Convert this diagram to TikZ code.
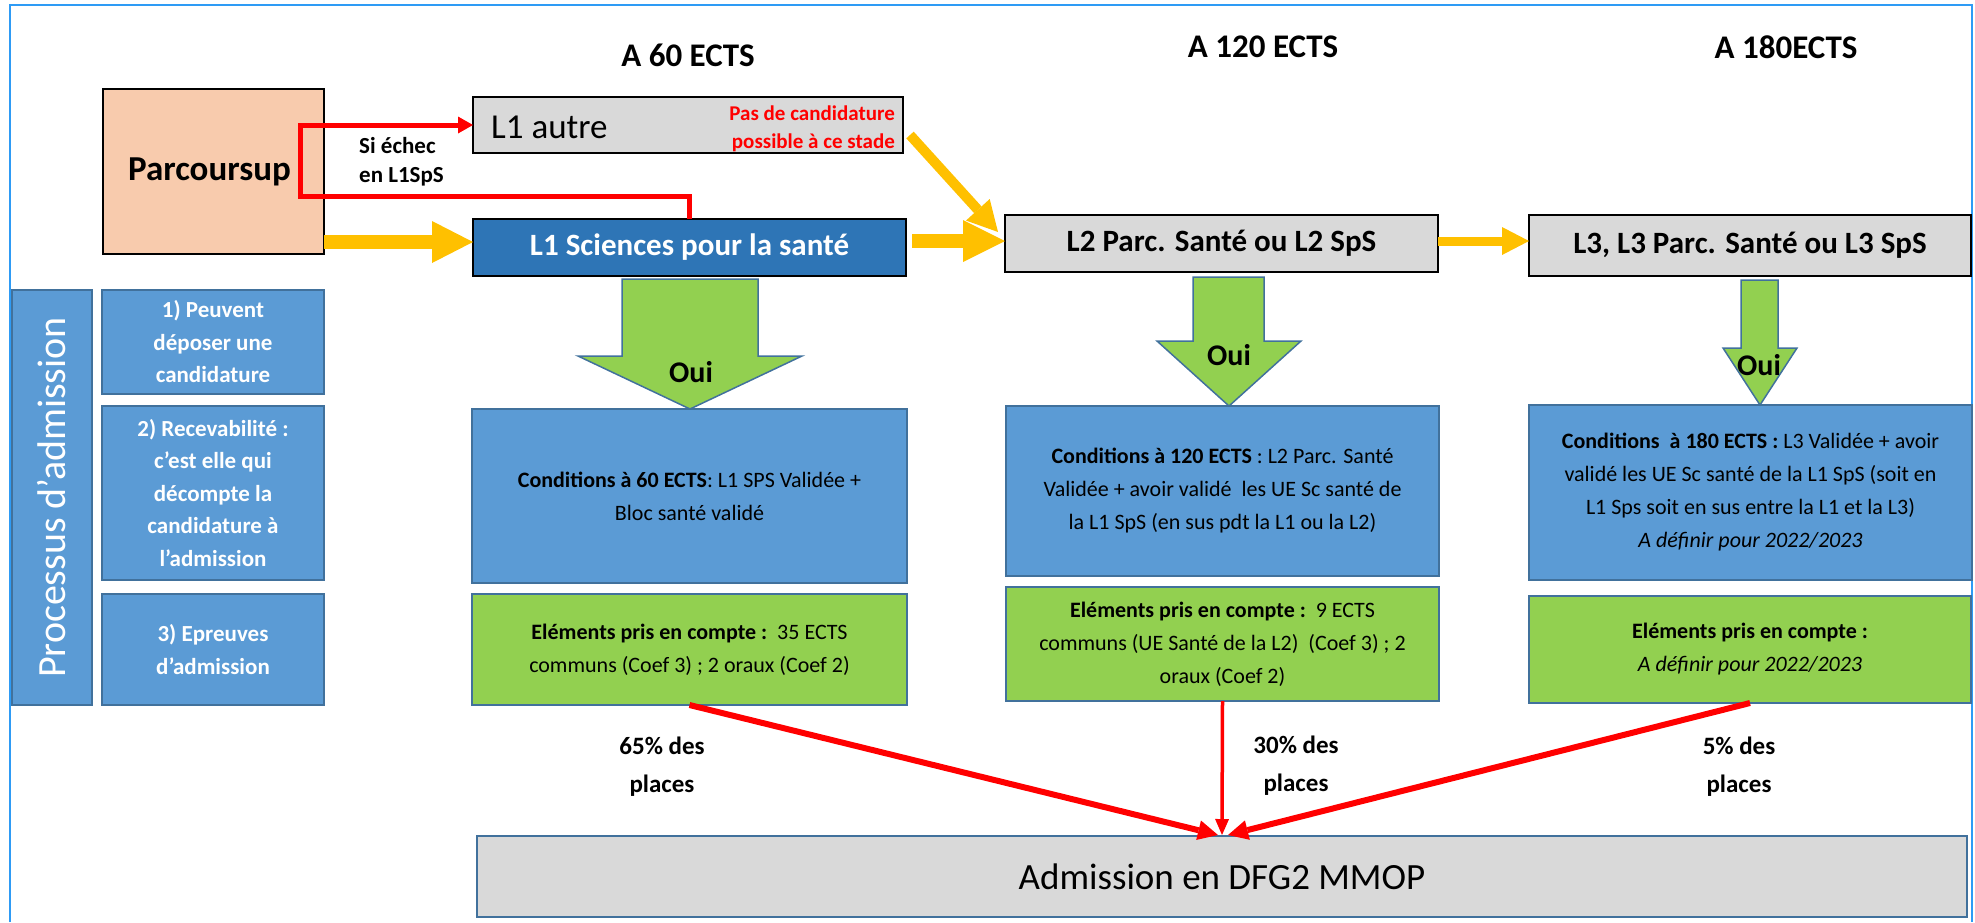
\documentclass[tikz,border=0pt]{standalone}
\usepackage{fontspec}
\setmainfont{Carlito}
\usetikzlibrary{arrows.meta,calc}
\definecolor{peach}{HTML}{F8CBAD}
\definecolor{grayc}{HTML}{D9D9D9}
\definecolor{darkblue}{HTML}{2E75B6}
\definecolor{midblue}{HTML}{5B9BD5}
\definecolor{bordblue}{HTML}{41719C}
\definecolor{greenc}{HTML}{92D050}
\definecolor{yellowc}{HTML}{FFC000}
\definecolor{redc}{HTML}{FF0000}
\definecolor{framec}{HTML}{2E9BF5}
\newcommand\fsz[2]{\fontsize{#1}{#2}\selectfont}
\begin{document}
\begin{tikzpicture}[x=1pt,y=-1pt,
  blackbox/.style={draw=black,line width=2.5pt,inner sep=0pt,outer sep=0pt,align=center},
  bluebox/.style={draw=bordblue,fill=midblue,line width=2pt,inner sep=0pt,outer sep=0pt,align=center},
  greenbox/.style={draw=bordblue,fill=greenc,line width=2pt,inner sep=0pt,outer sep=0pt,align=center},
  head/.style={inner sep=0pt,font=\fsz{33}{38}\bfseries},
  bigtxt/.style={font=\fsz{31}{36}\bfseries},
  stepbox/.style={bluebox,text=white,font=\fsz{23}{32.5}\bfseries,minimum width=222pt},
  condtext/.style={font=\fsz{22}{33}},
  garrow/.style={draw=bordblue,fill=greenc,line width=1.5pt,line join=miter},
  ouitxt/.style={inner sep=0pt,font=\fsz{30}{34}\bfseries},
  pct/.style={inner sep=0pt,align=center,font=\fsz{25}{38}\bfseries},
  yarrow/.style={draw=yellowc,line width=#1},
  redarrow/.style={draw=redc,line width=#1}
]
\useasboundingbox (0,0) rectangle (1975,922);
% frame
\draw[framec,line width=2pt] (10,922) -- (10,5) -- (1972,5) -- (1972,922);

% headings
\node[head] (h60) at (688,55) {A 60 ECTS};
\node[head] (h120) at (1263,47) {A 120 ECTS};
\node[head] (h180) at (1786,47) {A 180ECTS};

% top row
\node[blackbox,fill=peach,minimum width=221pt,minimum height=165pt,font=\fsz{35}{40}\bfseries] (parcoursup) at (213.5,171.5) {Parcoursup\hspace*{8pt}};
\node[blackbox,fill=grayc,minimum width=430pt,minimum height=56pt] (l1autre) at (688,125) {};
\node[anchor=west,inner sep=0pt,font=\fsz{35}{40}] (l1autretxt) at (491,127) {L1 autre};
\node[anchor=east,align=right,inner sep=0pt,text=redc,font=\fsz{21}{28}\bfseries] (pasdecand) at (895,129) {Pas de candidature\\possible à ce stade};
\node[blackbox,bigtxt,fill=darkblue,text=white,minimum width=433pt,minimum height=57pt] (l1sci) at (689.5,247.5) {L1 Sciences pour la santé};
\node[blackbox,bigtxt,fill=grayc,minimum width=433pt,minimum height=57pt] (l2) at (1221.5,243.5) {L2 Parc. Santé ou L2 SpS};
\node[blackbox,bigtxt,fill=grayc,minimum width=442pt,minimum height=61pt] (l3) at (1750,245.5) {L3, L3 Parc. Santé ou L3 SpS};
\node[anchor=west,align=left,inner sep=0pt,font=\fsz{23}{29}\bfseries] (siechec) at (359,161.5) {Si échec\\en L1SpS};

% left process column
\node[bluebox,text=white,minimum width=415pt,minimum height=80pt,rotate=90,font=\fsz{40}{44}] (proc) at (52,497.5) {Processus d’admission};
\node[stepbox,minimum height=104pt] (s1) at (213,342) {1) Peuvent\\déposer une\\candidature};
\node[stepbox,minimum height=174pt] (s2) at (213,493) {2) Recevabilité :\\c’est elle qui\\décompte la\\candidature à\\l’admission};
\node[stepbox,minimum height=111pt] (s3) at (213,649.5) {3) Epreuves\\d’admission};

% conditions
\node[bluebox,condtext,minimum width=435pt,minimum height=174pt] (c1) at (689.5,496) {\textbf{Conditions à 60 ECTS}: L1 SPS Validée +\\Bloc santé validé};
\node[bluebox,condtext,minimum width=433pt,minimum height=170pt] (c2) at (1222.5,491) {\textbf{Conditions à 120 ECTS} : L2 Parc. Santé\\Validée + avoir validé\ \ les UE Sc santé de\\la L1 SpS (en sus pdt la L1 ou la L2)};
\node[bluebox,condtext,minimum width=443pt,minimum height=175pt] (c3) at (1750.5,492.5) {\textbf{Conditions\ \ à 180 ECTS :} L3 Validée + avoir\\validé les UE Sc santé de la L1 SpS (soit en\\L1 Sps soit en sus entre la L1 et la L3)\\\textit{A définir pour 2022/2023}};

% elements
\node[greenbox,condtext,minimum width=435pt,minimum height=111pt] (e1) at (689.5,649.5) {\textbf{Eléments pris en compte :}\ \ 35 ECTS\\communs (Coef 3) ; 2 oraux (Coef 2)};
\node[greenbox,condtext,minimum width=433pt,minimum height=114pt] (e2) at (1222.5,644) {\textbf{Eléments pris en compte :}\ \ 9 ECTS\\communs (UE Santé de la L2)\ \ (Coef 3) ; 2\\oraux (Coef 2)};
\node[greenbox,condtext,minimum width=442pt,minimum height=107pt] (e3) at (1750,649.5) {\textbf{Eléments pris en compte :}\\\textit{A définir pour 2022/2023}};

% admission
\node[draw=bordblue,fill=grayc,line width=2pt,inner sep=0pt,minimum width=1490pt,minimum height=81pt,font=\fsz{37}{44}] (admission) at (1222,876.5) {Admission en DFG2 MMOP};

% green Oui arrows
\draw[garrow] (622,279) -- (758,279) -- (758,356) -- (802,356) -- (690,409) -- (578,356) -- (622,356) -- cycle;
\draw[garrow] (1193,277) -- (1264,277) -- (1264,341) -- (1301,341) -- (1229,406) -- (1157,341) -- (1193,341) -- cycle;
\draw[garrow] (1741,280) -- (1778,280) -- (1778,348) -- (1797,348) -- (1760,405) -- (1723,348) -- (1741,348) -- cycle;
\node[ouitxt] (oui1) at (691,372) {Oui};
\node[ouitxt] (oui2) at (1229,355) {Oui};
\node[ouitxt] (oui3) at (1759,365) {Oui};

% yellow arrows
\coordinate (ya) at (0,242);
\coordinate (yb) at (0,241);
\draw[yarrow=14pt,-{Triangle[length=41pt,width=42pt,line width=0pt]}] (parcoursup.east |- ya) -- (l1sci.west |- ya);
\draw[yarrow=14pt,shorten <=6pt,-{Triangle[length=42pt,width=42pt,line width=0pt]}] (l1sci.east |- yb) -- (l2.west |- yb);
\draw[yarrow=10pt,-{Triangle[length=30pt,width=32pt,line width=0pt]}] ($(l1autre.east)+(7,10)$) -- ($(l2.north west)+(-7,17)$);
\draw[yarrow=9pt,-{Triangle[length=27pt,width=28pt,line width=0pt]}] (l2.east |- yb) -- (l3.west |- yb);

% red path
\draw[redarrow=5pt,-{Triangle[length=15pt,width=17pt,line width=0pt]}] (l1sci.north) -- ++(0,-23) -| (300,125) -- (l1autre.west);

% red arrows to admission
\draw[redarrow=6pt,-{Triangle[length=20pt,width=20pt,line width=0pt]}] (e1.south) -- ([xshift=-4pt]admission.north);
\draw[redarrow=3.5pt,-{Triangle[length=16pt,width=14pt,line width=0pt]}] (e2.south) -- (admission.north);
\draw[redarrow=6pt,-{Triangle[length=20pt,width=20pt,line width=0pt]}] (e3.south) -- ([xshift=6pt]admission.north);

% percentages
\node[pct] (p65) at (662,767) {65\% des\\places};
\node[pct] (p30) at (1296,766) {30\% des\\places};
\node[pct] (p5) at (1739,767) {5\% des\\places};
\end{tikzpicture}
\end{document}
